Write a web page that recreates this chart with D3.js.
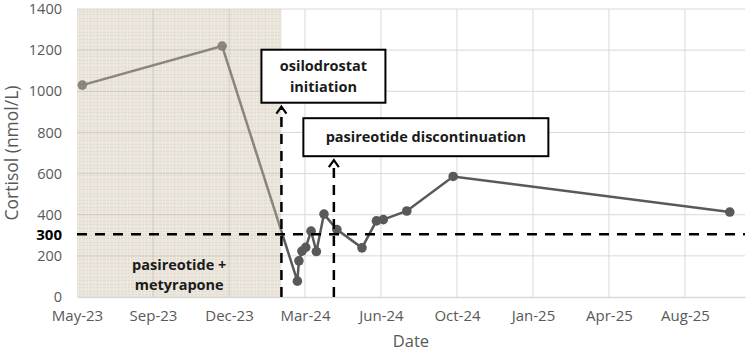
<!DOCTYPE html>
<html lang="en">
<head>
    <meta charset="UTF-8">
    <title>Cortisol over time</title>
    <script src="https://d3js.org/d3.v7.min.js"></script>
    <style>
        body {
            margin: 0;
            padding: 0;
            background: white;
            font-family: "Open Sans", sans-serif;
        }
        svg { display: block; }
    </style>
</head>
<body>
    <div id="chart"></div>
    <script>
        // data
        const sampleDates = ["2023-06-01", "2023-12-02", "2024-03-10", "2024-03-12", "2024-03-16",
            "2024-03-21", "2024-03-28", "2024-04-04", "2024-04-14", "2024-05-01", "2024-06-03",
            "2024-06-22", "2024-07-01", "2024-08-01", "2024-10-01", "2025-09-30"]
        const cortisol = [1030, 1220, 77, 176, 223, 241, 320, 221, 403, 328, 239, 370, 376, 418, 586, 413]

        const eventDates = ["2024-02-18", "2024-04-27"]
        const eventLabels = [["osilodrostat", "initiation"], ["pasireotide discontinuation"]]
        const eventTips = [925, 665]
        const treatmentLabel = ["pasireotide +", "metyrapone"]

        const threshold = 300
        const yTicks = [0, 200, 400, 600, 800, 1000, 1200, 1400]
        const axisStart = "2023-05-25"
        const axisEnd = "2025-10-20"
        const tickStepDays = 100

        const parseDate = d3.timeParse("%Y-%m-%d")
        const dataset = sampleDates.map((d, i) => ({ date: parseDate(d), value: cortisol[i] }))

        // dimensions
        let dimensions = {
            width: 750,
            height: 353,
            margin: { top: 9, right: 5, bottom: 56, left: 77 },
        }
        dimensions.boundedWidth = dimensions.width - dimensions.margin.left - dimensions.margin.right
        dimensions.boundedHeight = dimensions.height - dimensions.margin.top - dimensions.margin.bottom

        const wrapper = d3.select("#chart")
            .append("svg")
                .attr("width", dimensions.width)
                .attr("height", dimensions.height)

        // linen-like texture for the treatment period
        const defs = wrapper.append("defs")
        const pattern = defs.append("pattern")
            .attr("id", "linen")
            .attr("patternUnits", "userSpaceOnUse")
            .attr("width", 7)
            .attr("height", 7)
        pattern.append("rect").attr("width", 7).attr("height", 7).attr("fill", "#cdc0aa")
        pattern.append("path").attr("d", "M0,2.5H7M0,5.5H7").attr("stroke", "#b5a78f").attr("stroke-width", 0.7)
        pattern.append("path").attr("d", "M1.5,0V7M4.5,0V7").attr("stroke", "#ddd2bf").attr("stroke-width", 0.7)

        const bounds = wrapper.append("g")
            .attr("transform", `translate(${dimensions.margin.left},${dimensions.margin.top})`)

        // scales
        const xScale = d3.scaleTime()
            .domain([parseDate(axisStart), parseDate(axisEnd)])
            .range([0, dimensions.boundedWidth])

        const yScale = d3.scaleLinear()
            .domain([0, 1400])
            .range([dimensions.boundedHeight, 0])

        const xTicks = d3.range(0, 9).map(k => d3.timeDay.offset(parseDate(axisStart), k * tickStepDays))

        // gridlines
        bounds.append("g")
            .selectAll("line")
            .data(yTicks.slice(1))
            .join("line")
                .attr("x1", 0)
                .attr("x2", dimensions.boundedWidth)
                .attr("y1", d => yScale(d))
                .attr("y2", d => yScale(d))
                .attr("stroke", "#d9d9d9")
                .attr("stroke-width", 1)

        bounds.append("g")
            .selectAll("line")
            .data(xTicks.slice(1))
            .join("line")
                .attr("x1", d => xScale(d))
                .attr("x2", d => xScale(d))
                .attr("y1", 0)
                .attr("y2", dimensions.boundedHeight)
                .attr("stroke", "#d9d9d9")
                .attr("stroke-width", 1)

        // axes
        const xAxis = bounds.append("g")
            .attr("transform", `translate(0,${dimensions.boundedHeight})`)
            .call(d3.axisBottom(xScale).tickValues(xTicks).tickFormat(d3.timeFormat("%b-%y")).tickSize(0).tickPadding(13))
        xAxis.select(".domain").attr("stroke", "#d9d9d9").attr("stroke-width", 1.5)
        xAxis.selectAll("text")
            .attr("font-family", "Open Sans")
            .attr("font-size", 15)
            .attr("fill", "#595959")

        const yAxis = bounds.append("g")
            .call(d3.axisLeft(yScale).tickValues(yTicks).tickFormat(d3.format("d")).tickSize(0).tickPadding(15))
        yAxis.select(".domain").remove()
        yAxis.selectAll("text")
            .attr("font-family", "Open Sans")
            .attr("font-size", 14.5)
            .attr("fill", "#595959")

        // threshold label
        bounds.append("text")
            .attr("x", -15)
            .attr("y", yScale(threshold) - 1)
            .attr("dy", "0.35em")
            .attr("text-anchor", "end")
            .attr("font-size", 15)
            .attr("font-weight", "bold")
            .attr("fill", "black")
            .text(threshold)

        // data line + markers
        const lineGenerator = d3.line()
            .x(d => xScale(d.date))
            .y(d => yScale(d.value))

        bounds.append("path")
            .attr("d", lineGenerator(dataset))
            .attr("fill", "none")
            .attr("stroke", "#595959")
            .attr("stroke-width", 2.5)

        bounds.append("g")
            .selectAll("circle")
            .data(dataset)
            .join("circle")
                .attr("cx", d => xScale(d.date))
                .attr("cy", d => yScale(d.value))
                .attr("r", 4.8)
                .attr("fill", "#595959")

        // shaded treatment period (drawn over the line)
        const osiloX = xScale(parseDate(eventDates[0]))
        bounds.append("rect")
            .attr("x", 0)
            .attr("y", 0)
            .attr("width", osiloX)
            .attr("height", dimensions.boundedHeight)
            .attr("fill", "url(#linen)")
            .attr("opacity", 0.43)

        bounds.append("text")
            .attr("text-anchor", "middle")
            .attr("font-size", 14.5)
            .attr("font-weight", "bold")
            .attr("fill", "#1a1a1a")
            .selectAll("tspan")
            .data(treatmentLabel)
            .join("tspan")
                .attr("x", osiloX / 2)
                .attr("y", (d, i) => yScale(threshold) + 30 + i * 20)
                .attr("dy", "0.35em")
                .text(d => d)

        // threshold dashed line
        bounds.append("line")
            .attr("x1", 0)
            .attr("x2", dimensions.boundedWidth)
            .attr("y1", yScale(threshold) - 1)
            .attr("y2", yScale(threshold) - 1)
            .attr("stroke", "black")
            .attr("stroke-width", 2.5)
            .attr("stroke-dasharray", "10,8")

        // event arrows and boxes
        const boxes = [
            { dx: 42, w: 124, h: 53, lineGap: 21 },
            { dx: 92, w: 245, h: 38, lineGap: 0 },
        ]

        eventDates.forEach((d, i) => {
            const x = xScale(parseDate(d))
            const tipY = yScale(eventTips[i])
            bounds.append("line")
                .attr("x1", x)
                .attr("x2", x)
                .attr("y1", dimensions.boundedHeight)
                .attr("y2", tipY + 2)
                .attr("stroke", "black")
                .attr("stroke-width", 2.5)
                .attr("stroke-dasharray", "10,7")
            bounds.append("path")
                .attr("d", `M${x - 5},${tipY + 7}L${x},${tipY}L${x + 5},${tipY + 7}`)
                .attr("fill", "none")
                .attr("stroke", "black")
                .attr("stroke-width", 2.2)

            const b = boxes[i]
            const cx = x + b.dx
            const bottom = tipY - 4
            bounds.append("rect")
                .attr("x", cx - b.w / 2)
                .attr("y", bottom - b.h)
                .attr("width", b.w)
                .attr("height", b.h)
                .attr("fill", "white")
                .attr("stroke", "black")
                .attr("stroke-width", 2)

            const lines = eventLabels[i]
            const firstY = bottom - b.h / 2 - (lines.length - 1) * b.lineGap / 2
            bounds.append("text")
                .attr("text-anchor", "middle")
                .attr("font-size", 14.5)
                .attr("font-weight", "bold")
                .attr("fill", "#1a1a1a")
                .selectAll("tspan")
                .data(lines)
                .join("tspan")
                    .attr("x", cx)
                    .attr("y", (t, j) => firstY + j * b.lineGap)
                    .attr("dy", "0.35em")
                    .text(t => t)
        })

        // axis titles
        wrapper.append("text")
            .attr("transform", `translate(18,${dimensions.margin.top + dimensions.boundedHeight / 2}) rotate(-90)`)
            .attr("text-anchor", "middle")
            .attr("font-size", 17.5)
            .attr("fill", "#595959")
            .text("Cortisol (nmol/L)")

        wrapper.append("text")
            .attr("x", dimensions.margin.left + dimensions.boundedWidth / 2)
            .attr("y", 347)
            .attr("text-anchor", "middle")
            .attr("font-size", 16.5)
            .attr("fill", "#595959")
            .text("Date")
    </script>
</body>
</html>
